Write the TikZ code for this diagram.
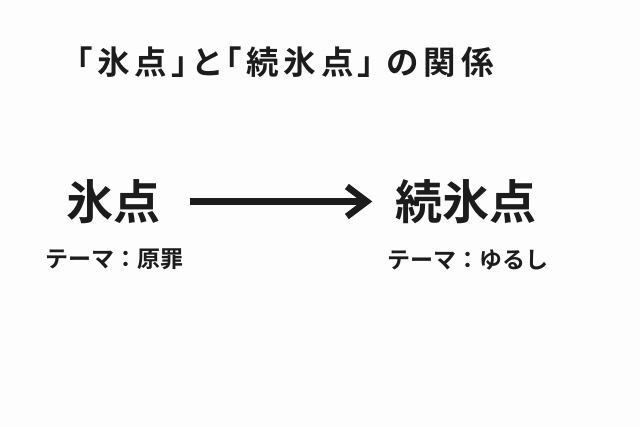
\documentclass[tikz,border=0pt]{standalone}
\usepackage{fontspec}
\setmainfont{Noto Sans CJK JP}
\newfontfamily\jpbold{Noto Sans CJK JP Bold}
\newfontfamily\jptitle[LetterSpace=15,RawFeature=+palt]{Noto Sans CJK JP Bold}
\usetikzlibrary{arrows.meta}
\definecolor{ink}{HTML}{1C1C1C}
\definecolor{bg}{HTML}{FDFDFD}
\tikzset{
  titletext/.style={inner sep=0pt, text=ink, font=\jptitle\fontsize{32.5}{38}\selectfont},
  bigtext/.style={inner sep=0pt, text=ink, font=\jpbold\fontsize{47}{54}\selectfont},
  themetext/.style={inner sep=0pt, text=ink, font=\jpbold\fontsize{23}{28}\selectfont},
  flow/.style={draw=ink, line width=6.5pt, -{Straight Barb[length=20pt,width=30pt]}}
}
\begin{document}
\begin{tikzpicture}[x=1pt,y=-1pt]
\useasboundingbox (0,0) rectangle (640,427);
\fill[bg] (0,0) rectangle (640,427);
\node[titletext] (title) at (285,62.5) {「氷点」と「続氷点」 の関係};
\node[bigtext] (a) at (113.5,201.5) {氷点};
\node[bigtext] (b) at (466,201.5) {続氷点};
\node[themetext] (ta) at (114.5,259.5) {テーマ：原罪};
\node[themetext] (tb) at (468,260.5) {テーマ：ゆるし};
\draw[flow, shorten <=29pt, shorten >=23pt] (a.east) -- (b.west);
\end{tikzpicture}
\end{document}
